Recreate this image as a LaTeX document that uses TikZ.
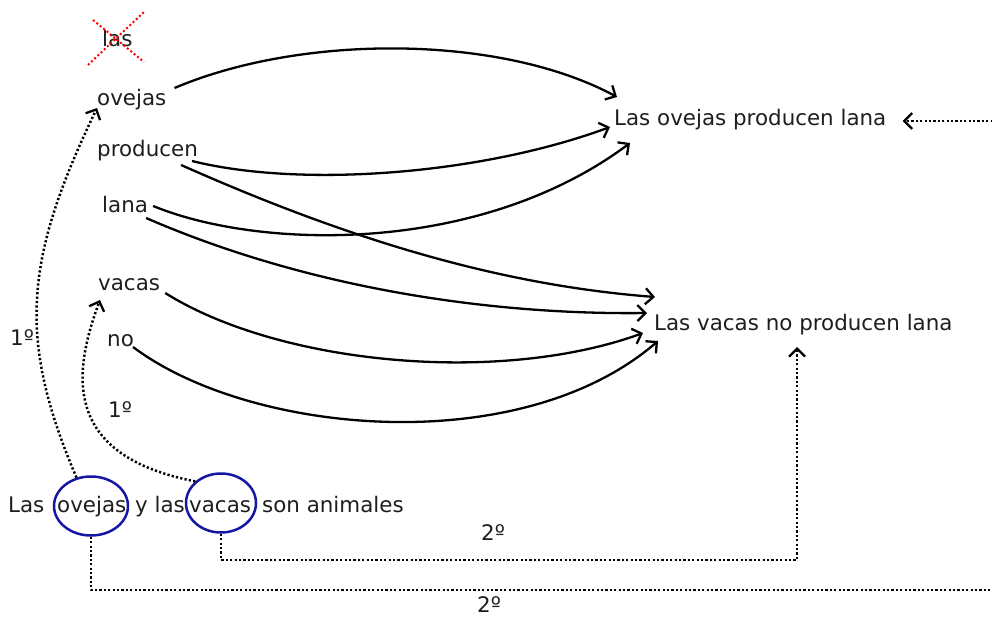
\documentclass[tikz,border=0pt]{standalone}
\usepackage{fontspec}
\setmainfont{DejaVu Sans}
\usetikzlibrary{arrows.meta,shapes.geometric}
\definecolor{ringblue}{RGB}{22,22,165}
\definecolor{inkgray}{RGB}{30,30,30}
\begin{document}
\begin{tikzpicture}[x=1pt,y=-1pt,
  lbl/.style={inner sep=0pt, anchor=base west, text=inkgray, font=\fontsize{21.4}{26}\selectfont},
  link/.style={line width=2.3pt, -{Straight Barb[length=8pt,width=16pt,line width=2.3pt]}},
  dotlink/.style={line width=2.5pt, dash pattern=on 2.2pt off 2.2pt,
    -{Straight Barb[length=8pt,width=16pt,line width=2.3pt]}},
  ring/.style={draw=ringblue, line width=2.5pt, ellipse, inner sep=0pt},
  strike/.style={red, line width=2pt, dash pattern=on 2pt off 2.4pt}]
\clip (0,0) rectangle (992,618);

% word list
\node[lbl] (las) at (102,47) {las};
\node[lbl] (ov)  at (97,105) {ovejas};
\node[lbl] (pr)  at (97,156) {producen};
\node[lbl] (la)  at (102,212) {lana};
\node[lbl] (va)  at (98,290) {vacas};
\node[lbl] (no)  at (107,346) {no};

% sentences
\node[lbl] (t1) at (614,125) {Las ovejas producen lana};
\node[lbl] (t2) at (654,330) {Las vacas no producen lana};

% premise sentence
\node[lbl] (s1) at (8,512)   {Las};
\node[lbl] (s2) at (57,512)  {ovejas};
\node[lbl] (s3) at (135,512) {y las};
\node[lbl] (s4) at (189,512) {vacas};
\node[lbl] (s5) at (262,512) {son animales};
\node[ring, minimum width=74pt, minimum height=59pt] (eov) at (91,506) {};
\node[ring, minimum width=70pt, minimum height=59pt] (eva) at (221,503) {};

% step labels
\node[lbl] (n1a) at (10,345)  {1º};
\node[lbl] (n1b) at (108,417) {1º};
\node[lbl] (n2a) at (481,540) {2º};
\node[lbl] (n2b) at (477,612) {2º};

% crossed-out article
\draw[strike] ([shift={(-14,18)}]las.base west) -- ([shift={(42,-35)}]las.base west);
\draw[strike] ([shift={(-9,-27)}]las.base west) -- ([shift={(42,15)}]las.base west);

% words feeding the sentences
\draw[link] ([shift={(8,-17)}]ov.base east) .. controls +(127,-54) and +(-117,-63) .. ([shift={(3,-28)}]t1.base west);
\draw[link] ([shift={(-6,5)}]pr.base east) .. controls +(108,27) and +(-130,48) .. ([shift={(-4,2)}]t1.base west);
\draw[link] ([shift={(-17,9)}]pr.base east) .. controls +(169,75) and +(-155,-12) .. ([shift={(1,-33)}]t2.base west);
\draw[link] ([shift={(5,-6)}]la.base east) .. controls +(107,44) and +(-150,112) .. ([shift={(16,18)}]t1.base west);
\draw[link] ([shift={(-2,6)}]la.base east) .. controls +(154,67) and +(-167,2) .. ([shift={(-7,-17)}]t2.base west);
\draw[link] ([shift={(5,3)}]va.base east) .. controls +(115,72) and +(-143,52) .. ([shift={(-11,3)}]t2.base west);
\draw[link] ([shift={(-1,1)}]no.base east) .. controls +(117,88) and +(-138,119) .. ([shift={(4,11)}]t2.base west);

% first step: circled words back to the list
\draw[dotlink] (eov.117) .. controls +(-60,-140) and +(-72,150) .. ([shift={(0,3)}]ov.base west);
\draw[dotlink] (eva.140) .. controls +(-128,-25) and +(-30,80) .. ([shift={(2,10)}]va.base west);

% second step: circled words to the sentences
\draw[dotlink] (eva.south) -- ++(0,26) -| ([shift={(143,17)}]t2.base west);
\coordinate (farright) at (1020,590);
\draw[dotlink] (eov.south) |- (farright) |- ([shift={(16,-4)}]t1.base east);
\end{tikzpicture}
\end{document}
